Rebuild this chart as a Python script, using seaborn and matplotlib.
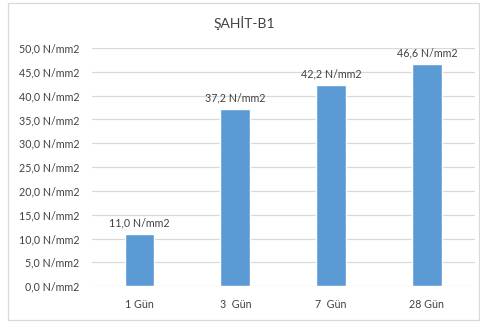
import matplotlib
matplotlib.use("Agg")
import matplotlib.pyplot as plt
from matplotlib.patches import Rectangle
import seaborn as sns
import pandas as pd

# Compressive strength by curing age
days = ["1 Gün", "3  Gün", "7  Gün", "28 Gün"]
strength = [11.0, 37.2, 42.2, 46.6]
y_ticks = [0, 5, 10, 15, 20, 25, 30, 35, 40, 45, 50]
title = "ŞAHİT-B1"

sns.set_theme(style="white")
plt.rcParams["font.family"] = ["Lato", "DejaVu Sans"]

text_col = "#404040"
grid_col = "#D9D9D9"
bar_col = "#5B9BD5"

df = pd.DataFrame({"gun": days, "dayanim": strength})

fig = plt.figure(figsize=(4.8, 3.27), dpi=100)
ax = fig.add_axes([0.191, 0.125, 0.798, 0.728])

sns.barplot(data=df, x="gun", y="dayanim", color=bar_col, width=0.31,
            saturation=1, ax=ax)

ax.set_ylim(0, 50)
ax.set_xlim(-0.5, len(days) - 0.5)
ax.set_yticks(y_ticks)
ax.set_yticklabels([f"{v:.1f}".replace(".", ",") + " N/mm2" for v in y_ticks])
ax.yaxis.grid(True, color=grid_col, linewidth=0.9)
ax.set_axisbelow(True)
ax.set_xlabel("")
ax.set_ylabel("")
for s in ax.spines.values():
    s.set_visible(False)
ax.tick_params(axis="both", length=0, labelsize=7.7, colors=text_col)
ax.tick_params(axis="x", pad=9)
ax.tick_params(axis="y", pad=9)

for i, v in enumerate(strength):
    ax.annotate(f"{v:.1f}".replace(".", ",") + " N/mm2", (i, v),
                xytext=(0, 4), textcoords="offset points",
                ha="center", va="bottom", fontsize=7.7, color=text_col)

fig.text(0.51, 0.93, title, ha="center", va="center",
         fontsize=10, color=text_col)

# chart frame
fig.patches.append(Rectangle((8 / 480, 1 - 320 / 327), 471 / 480, 317 / 327,
                             transform=fig.transFigure, fill=False,
                             edgecolor=grid_col, linewidth=0.9))

fig.savefig("out.png", dpi=100)
